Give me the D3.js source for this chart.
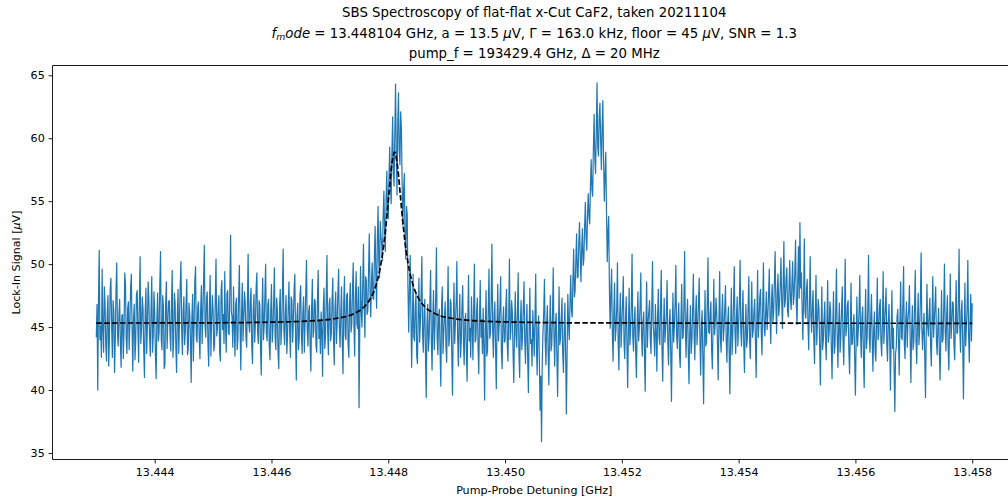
<!DOCTYPE html>
<html>
<head>
<meta charset="utf-8">
<script src="https://cdn.jsdelivr.net/npm/d3@7"></script>
<style>
  body { margin: 0; background: #fff; }
  text { font-family: "DejaVu Sans", sans-serif; fill: #000; }
</style>
</head>
<body>
<svg id="chart" width="1008" height="502"></svg>
<script>
// lock-in sweep: one reading every 12.5 kHz from 13.443 GHz
var sweepStart = 13.443;
var sweepStep = 0.0000125;

// lock-in signal [uV], 20 readings per row
var lockIn = [
  44.2, 46.8, 40.0, 47.3, 51.1, 44.0, 45.1, 42.6, 49.6, 44.7, 43.0, 48.2, 46.9, 43.5, 42.3, 46.1, 47.5, 41.9, 44.1, 48.0,
  48.9, 45.2, 42.6, 47.1, 46.3, 41.4, 44.0, 47.9, 50.1, 44.6, 43.5, 46.0, 47.2, 43.8, 41.8, 45.9, 46.0, 42.5, 44.7, 49.3,
  48.4, 44.1, 42.9, 46.5, 47.0, 43.2, 45.3, 48.1, 49.2, 44.9, 41.5, 45.7, 46.8, 42.4, 43.9, 47.6, 47.9, 44.8, 42.2, 46.9,
  50.6, 43.7, 44.8, 47.4, 46.5, 43.1, 41.0, 46.2, 48.1, 42.9, 45.0, 48.6, 47.3, 44.2, 42.7, 46.4, 49.0, 43.0, 44.3, 47.8,
  46.2, 42.8, 40.9, 45.6, 47.7, 43.9, 44.5, 48.3, 51.0, 44.0, 43.2, 47.5, 46.6, 41.7, 42.0, 46.9, 48.6, 43.3, 45.4, 47.0,
  47.1, 44.4, 43.1, 46.7, 49.5, 42.6, 44.0, 47.7, 46.9, 43.4, 41.4, 46.0, 48.0, 42.9, 45.6, 48.4, 50.2, 44.7, 42.8, 46.3,
  47.4, 43.6, 44.6, 47.0, 48.8, 42.8, 43.3, 46.9, 46.1, 44.1, 40.6, 45.8, 47.6, 42.3, 45.2, 48.7, 49.8, 44.3, 43.8, 46.6,
  47.0, 44.2, 42.5, 46.4, 48.3, 43.7, 45.9, 48.8, 51.5, 45.0, 44.2, 47.3, 47.8, 43.6, 41.9, 46.8, 49.1, 42.7, 45.5, 47.5,
  46.4, 43.1, 43.6, 47.2, 50.4, 44.3, 44.9, 46.6, 47.5, 43.0, 42.3, 47.9, 48.7, 44.8, 46.0, 43.7, 49.4, 45.1, 43.0, 47.7,
  47.9, 44.5, 44.4, 48.1, 52.3, 46.2, 45.8, 43.4, 48.2, 45.0, 42.7, 46.8, 47.3, 43.2, 44.1, 47.4, 49.9, 44.9, 41.6, 46.0,
  48.5, 43.9, 45.7, 47.8, 47.0, 44.2, 43.4, 46.9, 50.8, 45.3, 44.6, 47.0, 48.1, 43.4, 42.1, 46.3, 47.6, 43.8, 45.3, 48.2,
  49.3, 44.6, 43.7, 47.1, 46.8, 43.3, 41.2, 46.2, 48.9, 44.0, 45.1, 47.6, 50.0, 44.5, 43.9, 46.8, 47.2, 43.5, 42.4, 46.4,
  48.4, 43.8, 44.8, 46.9, 49.7, 44.2, 43.2, 47.3, 46.5, 42.9, 41.7, 46.4, 48.0, 43.6, 45.0, 47.8, 51.2, 44.7, 43.6, 46.1,
  47.5, 42.9, 44.3, 46.7, 48.6, 44.6, 42.6, 47.4, 47.1, 43.8, 45.5, 48.0, 49.2, 44.1, 40.8, 45.9, 46.9, 43.2, 44.0, 47.5,
  48.3, 44.4, 42.9, 46.2, 47.4, 43.0, 45.2, 47.9, 50.3, 44.8, 43.5, 46.3, 46.7, 43.4, 41.5, 46.5, 48.8, 44.2, 44.7, 47.2,
  47.0, 43.5, 43.0, 47.3, 49.5, 44.1, 45.6, 42.9, 46.2, 44.7, 41.1, 46.6, 48.1, 43.3, 44.2, 47.4, 50.7, 44.6, 42.8, 46.8,
  47.3, 43.9, 44.5, 47.1, 48.9, 44.0, 42.0, 46.5, 47.8, 43.7, 45.3, 47.8, 49.6, 44.9, 43.4, 46.2, 48.2, 43.8, 41.3, 46.9,
  49.0, 44.3, 44.0, 47.5, 47.7, 43.6, 42.6, 47.0, 48.5, 44.6, 45.2, 48.1, 50.1, 45.0, 42.7, 47.4, 49.4, 45.3, 44.9, 48.2,
  38.6, 45.1, 49.8, 46.2, 45.0, 48.3, 51.6, 46.9, 44.2, 49.0, 48.7, 46.0, 46.3, 49.5, 52.4, 47.8, 45.8, 48.6, 50.1, 47.3,
  47.2, 50.6, 53.0, 49.1, 46.5, 51.8, 54.6, 50.2, 48.9, 53.4, 52.2, 51.5, 50.3, 53.9, 55.8, 52.6, 51.0, 55.1, 57.4, 54.0,
  53.6, 57.0, 59.3, 56.1, 54.8, 58.8, 61.7, 57.4, 56.2, 60.5, 64.3, 58.9, 55.5, 61.2, 63.6, 59.0, 57.9, 62.1, 60.8, 56.4,
  53.1, 55.8, 57.2, 52.0, 50.4, 54.6, 53.9, 48.1, 44.6, 47.9, 50.7, 46.3, 41.8, 45.0, 49.2, 44.2, 43.9, 46.8, 47.6, 42.7,
  42.1, 46.3, 48.9, 43.8, 45.4, 47.6, 50.6, 44.5, 43.0, 46.1, 47.2, 42.8, 39.4, 45.2, 46.8, 43.1, 44.2, 46.9, 49.5, 44.0,
  41.6, 45.7, 47.9, 43.2, 45.0, 47.4, 51.3, 44.1, 42.8, 45.9, 46.4, 43.0, 40.3, 46.6, 48.2, 42.9, 44.6, 45.8, 47.0, 43.5,
  42.2, 46.0, 49.8, 43.5, 44.1, 47.2, 46.9, 42.8, 39.6, 44.9, 48.5, 43.7, 45.3, 47.0, 50.2, 44.3, 41.9, 45.4, 47.6, 42.6,
  43.8, 46.7, 48.3, 44.0, 42.0, 45.5, 46.1, 43.1, 40.7, 45.8, 49.1, 43.9, 44.9, 42.6, 47.4, 45.1, 42.4, 46.5, 50.0, 43.8,
  44.0, 46.2, 47.3, 43.4, 41.3, 45.7, 48.7, 44.2, 45.6, 42.9, 46.5, 43.6, 39.2, 45.3, 47.9, 42.7, 43.1, 46.4, 49.6, 44.1,
  44.5, 47.1, 51.6, 44.8, 42.6, 46.0, 47.0, 43.3, 40.1, 45.2, 48.4, 43.9, 45.2, 46.7, 49.0, 43.0, 41.7, 45.5, 46.6, 43.8,
  43.9, 46.5, 48.0, 43.6, 42.3, 45.9, 50.4, 44.0, 44.7, 47.1, 46.2, 42.8, 40.6, 45.0, 47.8, 44.3, 43.4, 46.2, 49.3, 42.9,
  41.0, 45.4, 47.1, 43.2, 44.3, 46.6, 48.6, 43.9, 42.1, 45.1, 46.8, 42.5, 39.8, 44.8, 48.1, 43.7, 44.0, 41.9, 46.3, 44.6,
  42.7, 45.8, 49.2, 43.5, 41.2, 44.9, 45.9, 42.3, 38.4, 41.1, 35.9, 42.4, 44.6, 46.2, 48.8, 43.9, 42.0, 45.3, 46.7, 43.0,
  40.4, 44.7, 47.5, 43.1, 43.6, 46.0, 49.7, 44.4, 41.9, 45.2, 46.1, 42.7, 39.5, 44.0, 48.2, 43.6, 44.1, 45.8, 47.3, 42.9,
  41.4, 44.5, 46.9, 43.0, 38.1, 42.8, 47.6, 45.2, 44.0, 47.0, 49.1, 46.3, 45.8, 48.8, 51.2, 47.4, 47.9, 50.3, 52.4, 48.9,
  49.0, 51.6, 53.3, 50.8, 48.6, 51.2, 52.8, 49.9, 50.4, 53.0, 54.9, 52.1, 51.1, 54.0, 55.6, 53.7, 53.2, 56.2, 58.3, 55.9,
  55.4, 59.1, 61.9, 58.4, 57.2, 60.6, 64.4, 59.3, 58.6, 61.7, 62.8, 59.8, 57.5, 60.9, 63.0, 58.2, 55.0, 57.0, 58.9, 54.1,
  50.2, 52.6, 53.8, 47.9, 44.9, 47.8, 49.6, 44.6, 42.3, 46.1, 48.5, 43.9, 44.8, 46.5, 50.1, 43.7, 41.6, 45.9, 47.7, 43.4,
  45.3, 46.9, 49.0, 43.8, 42.5, 45.6, 47.4, 43.5, 40.2, 44.8, 48.1, 43.6, 44.6, 46.7, 50.8, 44.2, 43.1, 45.5, 46.6, 42.9,
  41.0, 45.2, 47.8, 43.9, 44.9, 46.8, 49.3, 44.3, 42.7, 45.5, 46.2, 43.0, 39.9, 45.0, 48.6, 43.4, 45.4, 46.3, 47.1, 44.0,
  42.9, 46.4, 50.2, 45.1, 44.3, 42.7, 46.8, 44.6, 41.5, 45.9, 48.0, 44.2, 43.6, 46.6, 49.5, 43.3, 40.7, 44.7, 47.3, 43.8,
  44.8, 46.1, 48.7, 43.7, 42.0, 45.4, 46.4, 43.0, 39.1, 44.5, 47.7, 43.8, 45.0, 46.9, 49.9, 44.4, 43.3, 45.6, 46.9, 42.8,
  41.8, 45.5, 48.4, 44.1, 44.2, 46.7, 51.0, 44.9, 42.6, 45.8, 47.2, 43.1, 40.5, 44.6, 46.7, 42.9, 44.0, 46.4, 49.2, 44.3,
  42.4, 45.9, 47.5, 43.6, 45.1, 47.0, 48.9, 44.0, 41.2, 45.1, 46.3, 42.6, 38.9, 44.2, 47.9, 43.5, 43.8, 46.8, 50.5, 44.6,
  44.5, 46.2, 47.0, 43.2, 41.7, 45.0, 48.8, 44.4, 45.3, 47.3, 46.1, 43.7, 40.8, 45.4, 49.4, 44.1, 43.0, 46.0, 47.6, 43.9,
  44.9, 46.5, 48.3, 44.0, 42.2, 45.3, 46.6, 43.1, 39.7, 44.6, 48.1, 42.8, 44.4, 46.9, 49.8, 44.7, 42.9, 45.8, 47.4, 43.5,
  45.2, 47.0, 50.3, 44.6, 43.5, 46.1, 47.9, 43.8, 41.4, 45.0, 46.8, 43.4, 44.1, 46.6, 49.0, 44.0, 42.5, 45.7, 48.6, 44.2,
  44.7, 46.3, 47.2, 43.9, 41.0, 45.6, 49.5, 44.2, 45.6, 47.4, 48.0, 44.5, 42.8, 46.8, 50.1, 45.0, 44.3, 46.1, 47.8, 44.8,
  45.9, 47.5, 49.6, 45.8, 43.7, 47.0, 48.4, 45.4, 46.2, 48.6, 51.0, 46.9, 44.5, 47.8, 49.2, 45.9, 46.8, 48.3, 50.5, 47.1,
  44.9, 48.2, 51.8, 46.6, 47.1, 48.9, 49.7, 46.3, 45.8, 48.0, 50.3, 47.2, 46.4, 48.5, 50.2, 46.8, 47.5, 49.4, 51.9, 47.0,
  45.2, 48.6, 51.4, 47.3, 53.3, 48.1, 49.3, 46.5, 44.0, 47.4, 52.0, 46.2, 45.7, 48.0, 48.8, 45.3, 43.2, 46.7, 50.6, 45.9,
  44.6, 46.8, 47.9, 44.0, 42.1, 45.9, 49.1, 43.6, 45.3, 47.2, 46.5, 43.5, 40.4, 44.8, 48.2, 43.2, 43.9, 45.7, 47.0, 44.1,
  42.4, 45.6, 48.7, 43.8, 44.6, 47.0, 46.3, 43.4, 40.9, 45.1, 47.8, 42.9, 43.5, 46.2, 49.6, 44.5, 41.8, 44.9, 46.9, 43.0,
  44.2, 46.4, 48.2, 43.9, 42.0, 45.5, 50.4, 44.3, 45.0, 46.7, 47.1, 43.1, 41.3, 44.7, 48.5, 43.6, 43.7, 45.2, 46.0, 42.5,
  39.6, 44.0, 47.4, 43.5, 44.8, 46.3, 49.1, 44.6, 42.6, 45.8, 46.6, 42.7, 40.2, 44.9, 48.0, 43.3, 44.1, 46.5, 50.7, 44.2,
  43.0, 45.9, 47.6, 44.1, 41.5, 44.8, 46.2, 43.0, 42.3, 45.6, 48.9, 44.0, 44.4, 46.6, 47.2, 43.8, 42.7, 45.4, 49.4, 43.7,
  45.1, 46.7, 48.1, 43.6, 42.3, 45.4, 46.8, 43.9, 40.0, 44.5, 47.9, 43.3, 44.9, 41.6, 38.3, 42.9, 43.4, 45.8, 46.4, 44.0,
  41.2, 45.3, 48.6, 44.2, 44.0, 46.9, 49.8, 43.7, 42.5, 45.5, 47.0, 43.4, 45.6, 46.3, 48.3, 44.1, 40.6, 44.6, 46.7, 43.2,
  43.8, 46.6, 49.5, 44.0, 42.1, 45.2, 47.7, 43.6, 44.7, 47.1, 50.9, 45.0, 43.2, 44.8, 46.1, 42.7, 39.4, 44.3, 48.4, 45.1,
  44.3, 46.0, 47.3, 43.5, 41.9, 45.6, 49.0, 44.2, 45.4, 46.8, 48.2, 43.9, 42.8, 45.1, 46.5, 43.0, 40.8, 44.4, 47.9, 43.8,
  44.0, 46.5, 50.0, 44.7, 43.1, 45.9, 47.5, 43.4, 41.6, 45.3, 49.2, 44.1, 45.2, 47.0, 46.9, 43.6, 42.4, 45.7, 48.7, 44.5,
  44.6, 46.9, 51.2, 45.0, 43.0, 46.2, 47.1, 43.8, 39.3, 44.1, 48.5, 43.5, 44.9, 46.4, 50.3, 44.6, 42.2, 45.3, 47.6, 43.9,
  46.9
];

// lorentzian fit, sampled
var fitFreq = [13.443, 13.445, 13.446, 13.4466, 13.4471, 13.4474, 13.4476, 13.4477,
  13.4478, 13.44786, 13.44791, 13.44796, 13.44801, 13.44806, 13.44811, 13.44816,
  13.44821, 13.44826, 13.44831, 13.44836, 13.44841, 13.44851, 13.44861, 13.44881,
  13.44911, 13.44961, 13.45011, 13.4511, 13.4531, 13.458];
var fitSignal = [45.32, 45.34, 45.39, 45.47, 45.68, 46.04, 46.67, 47.31,
  48.48, 49.65, 51.07, 53.04, 55.51, 57.90, 58.90, 57.74,
  55.30, 52.86, 50.94, 49.55, 48.57, 47.36, 46.70, 46.05,
  45.68, 45.47, 45.40, 45.34, 45.32, 45.30];

var xTicks = [13.444, 13.446, 13.448, 13.450, 13.452, 13.454, 13.456, 13.458];
var yTicks = [35, 40, 45, 50, 55, 60, 65];

var titleLines = [
  "SBS Spectroscopy of flat-flat x-Cut CaF2, taken 20211104",
  null,
  "pump_f = 193429.4 GHz, \u0394 = 20 MHz"
];

var plot = { left: 52.5, right: 1016, top: 65.5, bottom: 459.5 };

var svg = d3.select("#chart");
svg.append("rect").attr("width", 1008).attr("height", 502).attr("fill", "#fff");

var x = d3.scaleLinear().domain([13.44225, 13.45875]).range([plot.left, plot.right]);
var y = d3.scaleLinear().domain([34.48, 65.78]).range([plot.bottom, plot.top]);

var series = lockIn.map(function(v, i) {
  return { f: sweepStart + i * sweepStep, v: v };
});
var fit = fitFreq.map(function(f, i) { return { f: f, v: fitSignal[i] }; });

var line = d3.line().x(d => x(d.f)).y(d => y(d.v));

svg.append("path")
  .datum(series)
  .attr("fill", "none")
  .attr("stroke", "#1f77b4")
  .attr("stroke-width", 1.2)
  .attr("stroke-linejoin", "round")
  .attr("d", line);

svg.append("path")
  .datum(fit)
  .attr("fill", "none")
  .attr("stroke", "#000")
  .attr("stroke-width", 1.7)
  .attr("stroke-dasharray", "5.5,2.4")
  .attr("d", d3.line().x(d => x(d.f)).y(d => y(d.v)).curve(d3.curveMonotoneX));

// axes
var xAxis = d3.axisBottom(x)
  .tickValues(xTicks)
  .tickFormat(d3.format(".3f"))
  .tickSize(3.9)
  .tickPadding(4.6)
  .tickSizeOuter(0);

var yAxis = d3.axisLeft(y)
  .tickValues(yTicks)
  .tickFormat(d3.format("d"))
  .tickSize(3.9)
  .tickPadding(3.9)
  .tickSizeOuter(0);

var gx = svg.append("g").attr("transform", "translate(0," + plot.bottom + ")").call(xAxis);
var gy = svg.append("g").attr("transform", "translate(" + plot.left + ",0)").call(yAxis);

[gx, gy].forEach(function(g) {
  g.select(".domain").remove();
  g.attr("font-size", 11.1).attr("font-family", "DejaVu Sans");
  g.selectAll(".tick line").attr("stroke", "#000").attr("stroke-width", 0.9);
  g.selectAll(".tick text").attr("fill", "#000");
});

// spines
var spine = svg.append("g").attr("stroke", "#000").attr("stroke-width", 0.9);
spine.append("line").attr("x1", plot.left).attr("x2", plot.right).attr("y1", plot.bottom).attr("y2", plot.bottom);
spine.append("line").attr("x1", plot.left).attr("x2", plot.right).attr("y1", plot.top).attr("y2", plot.top);
spine.append("line").attr("x1", plot.left).attr("x2", plot.left).attr("y1", plot.top).attr("y2", plot.bottom);
spine.append("line").attr("x1", plot.right).attr("x2", plot.right).attr("y1", plot.top).attr("y2", plot.bottom);

// title
var cx = (plot.left + plot.right) / 2;
svg.append("text").attr("x", cx).attr("y", 17).attr("text-anchor", "middle")
  .attr("font-size", 13.3).text(titleLines[0]);

var t2 = svg.append("text").attr("x", cx).attr("y", 37.5).attr("text-anchor", "middle")
  .attr("font-size", 13.3);
t2.append("tspan").attr("font-style", "italic").text("f");
t2.append("tspan").attr("font-style", "italic").attr("font-size", 9.3).attr("dy", 2.6).text("m");
t2.append("tspan").attr("font-style", "italic").attr("dy", -2.6).text("ode");
t2.append("tspan").text(" = 13.448104 GHz, a = 13.5 ");
t2.append("tspan").attr("font-style", "italic").text("\u03bc");
t2.append("tspan").text("V, \u0393 = 163.0 kHz, floor = 45 ");
t2.append("tspan").attr("font-style", "italic").text("\u03bc");
t2.append("tspan").text("V, SNR = 1.3");

svg.append("text").attr("x", cx).attr("y", 58).attr("text-anchor", "middle")
  .attr("font-size", 13.3).text(titleLines[2]);

// axis labels
svg.append("text").attr("x", cx).attr("y", 494).attr("text-anchor", "middle")
  .attr("font-size", 11.1).text("Pump-Probe Detuning [GHz]");

var yl = svg.append("text")
  .attr("transform", "translate(20," + ((plot.top + plot.bottom) / 2) + ") rotate(-90)")
  .attr("text-anchor", "middle")
  .attr("font-size", 11.1);
yl.append("tspan").text("Lock-In Signal [");
yl.append("tspan").attr("font-style", "italic").text("\u03bc");
yl.append("tspan").text("V]");
</script>
</body>
</html>
